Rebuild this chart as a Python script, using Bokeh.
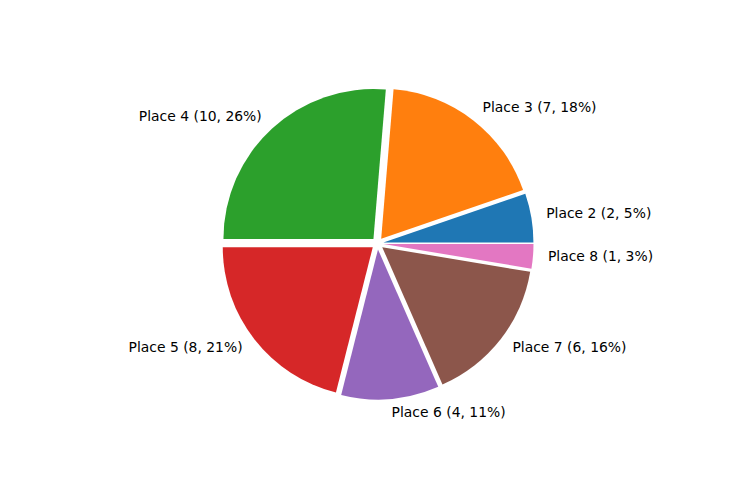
import numpy as np
from bokeh.plotting import figure
from bokeh.models import ColumnDataSource, Range1d
from bokeh.core.properties import value
from bokeh.embed import file_html
from bokeh.resources import INLINE

places = ["Place 2", "Place 3", "Place 4", "Place 5", "Place 6", "Place 7", "Place 8"]
counts = [2, 7, 10, 8, 4, 6, 1]
colors = ["#1f77b4", "#ff7f0e", "#2ca02c", "#d62728", "#9467bd", "#8c564b", "#e377c2"]

explode = 0.04
label_dist = 1.1

vals = np.array(counts, dtype=float)
frac = vals / vals.sum()
ends = np.cumsum(frac) * 2 * np.pi
starts = ends - frac * 2 * np.pi
mids = (starts + ends) / 2
cx = explode * np.cos(mids)
cy = explode * np.sin(mids)
lx = cx + label_dist * np.cos(mids)
ly = cy + label_dist * np.sin(mids)
labels = [f"{p} ({c}, {f*100:.0f}%)" for p, c, f in zip(places, counts, frac)]
align = ["left" if np.cos(m) >= 0 else "right" for m in mids]

src = ColumnDataSource(dict(x=cx, y=cy, start=starts, end=ends, color=colors,
                            lx=lx, ly=ly, label=labels, align=align))

W, H = 720, 464
scale = 150.0
px_cx, px_cy = 377.0, 243.0
p = figure(width=W, height=H, output_backend="svg", toolbar_location=None,
           x_range=Range1d(-px_cx / scale, (W - px_cx) / scale),
           y_range=Range1d(-(H - px_cy) / scale, px_cy / scale),
           min_border=0)
p.axis.visible = False
p.grid.visible = False
p.outline_line_color = None
p.background_fill_color = "white"
p.border_fill_color = "white"

p.wedge(x="x", y="y", radius=1.0, start_angle="start", end_angle="end",
        fill_color="color", line_color=None, source=src)
p.text(x="lx", y="ly", text="label", text_align="align", text_baseline="middle",
       y_offset=-2,
       text_font=value("DejaVu Sans"), text_font_size="13.9px", text_color="black",
       source=src)

open("out.html", "w").write(file_html(p, INLINE))
